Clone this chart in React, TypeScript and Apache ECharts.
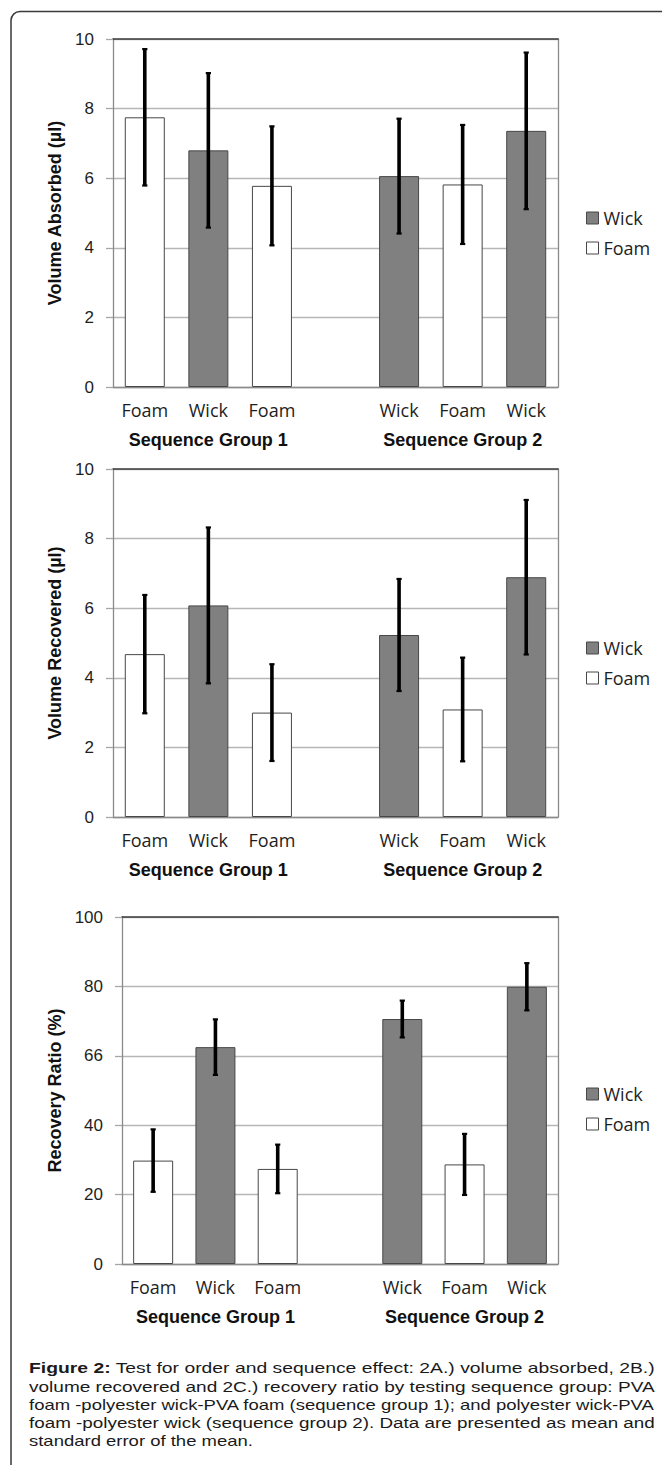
import React, { useEffect, useRef } from "react";
import * as echarts from "echarts";

// ---------- data ----------
const categories = ["Foam", "Wick", "Foam", "", "Wick", "Foam", "Wick"];
const materials = ["Foam", "Wick", "Foam", "", "Wick", "Foam", "Wick"];
const groupLabels = ["", "Sequence Group 1", "", "", "", "Sequence Group 2", ""];

const absorbedMean = [7.75, 6.8, 5.78, null, 6.06, 5.82, 7.36];
const absorbedSE = [1.96, 2.22, 1.71, null, 1.65, 1.71, 2.25];

const recoveredMean = [4.68, 6.08, 3.0, null, 5.23, 3.09, 6.89];
const recoveredSE = [1.7, 2.24, 1.39, null, 1.61, 1.49, 2.22];

const ratioMean = [29.8, 62.5, 27.4, null, 70.6, 28.7, 79.9];
const ratioSE = [9.0, 8.0, 7.0, null, 5.3, 8.8, 6.8];

const volumeTicks = ["0", "2", "4", "6", "8", "10"];
const ratioTicks = ["0", "20", "40", "66", "80", "100"];

const legendNames = ["Wick", "Foam"];

const captionBold = "Figure 2:";
const captionLines = [
  "Figure 2: Test for order and sequence effect: 2A.) volume absorbed, 2B.)",
  "volume recovered and 2C.) recovery ratio by testing sequence group: PVA",
  "foam -polyester wick-PVA foam (sequence group 1); and polyester wick-PVA",
  "foam -polyester wick (sequence group 2). Data are presented as mean and",
  "standard error of the mean.",
];

// ---------- styling / layout ----------
const SANS = '"Liberation Sans", Arial, sans-serif';
const CAT = '"Open Sans", sans-serif';
const WICK_FILL = "#808080";
const FOAM_FILL = "#ffffff";
const BAR_BORDER = "#474747";

const panels = [
  { title: "Volume Absorbed (µl)", mean: absorbedMean, se: absorbedSE, ticks: volumeTicks, max: 10, interval: 2 },
  { title: "Volume Recovered (µl)", mean: recoveredMean, se: recoveredSE, ticks: volumeTicks, max: 10, interval: 2 },
  { title: "Recovery Ratio (%)", mean: ratioMean, se: ratioSE, ticks: ratioTicks, max: 100, interval: 20 },
];
const layouts = [
  { left: 113, top: 39, width: 445, height: 348, legendTop: 203, nameGap: 45 },
  { left: 113, top: 469, width: 445, height: 348, legendTop: 633, nameGap: 45 },
  { left: 122, top: 917, width: 436, height: 347, legendTop: 1079, nameGap: 54 },
];

const captionX = 29;
const captionRight = 655;
const captionTop = 1368;
const captionStep = 18.35;
const captionSize = 15;

function measure(text: string, font: string): number {
  const c = document.createElement("canvas").getContext("2d");
  if (!c) return text.length * 7;
  c.font = font;
  return c.measureText(text).width;
}

function buildCaption() {
  const normalFont = `${captionSize}px "Liberation Sans"`;
  const boldFont = `bold ${captionSize}px "Liberation Sans"`;
  const target = captionRight - captionX;
  const widths = captionLines.map((line) => {
    if (line.startsWith(captionBold)) {
      return measure(captionBold, boldFont) + measure(line.slice(captionBold.length), normalFont);
    }
    return measure(line, normalFont);
  });
  const scales = widths.map((w) => target / w);
  const full = scales.slice(0, captionLines.length - 1);
  const lastScale = Math.min(...full);
  return captionLines.map((line, i) => {
    const last = i === captionLines.length - 1;
    const isFirst = line.startsWith(captionBold);
    const text = isFirst
      ? `{b|${captionBold}}{n|${line.slice(captionBold.length)}}`
      : line;
    return {
      type: "text",
      x: captionX,
      y: captionTop + i * captionStep,
      scaleX: last ? lastScale : scales[i],
      z: 10,
      style: {
        text,
        fill: "#1a1a1a",
        fontSize: captionSize,
        fontFamily: SANS,
        align: "left",
        verticalAlign: "middle",
        rich: {
          b: { fontWeight: "bold", fontSize: captionSize, fontFamily: SANS, fill: "#1a1a1a" },
          n: { fontSize: captionSize, fontFamily: SANS, fill: "#1a1a1a" },
        },
      },
    };
  });
}

function buildOption() {
  const grid: any[] = [];
  const xAxis: any[] = [];
  const yAxis: any[] = [];
  const series: any[] = [];
  const legend: any[] = [];

  panels.forEach((p, i) => {
    const l = layouts[i];
    grid.push({ left: l.left, top: l.top, width: l.width, height: l.height, show: false });

    // bottom category axis
    xAxis.push({
      type: "category",
      gridIndex: i,
      position: "bottom",
      data: categories,
      axisLine: { show: true, onZero: false, lineStyle: { color: "#8a8a8a", width: 1.3 } },
      axisTick: { show: false },
      axisLabel: { interval: 0, margin: 14, fontFamily: CAT, fontSize: 18, color: "#1e1e1e" },
      splitLine: { show: false },
    });
    // top frame line
    xAxis.push({
      type: "category",
      gridIndex: i,
      position: "top",
      data: categories,
      axisLine: { show: true, onZero: false, lineStyle: { color: "#3c3c3c", width: 1.5 } },
      axisTick: { show: false },
      axisLabel: { show: false },
      splitLine: { show: false },
    });
    // group labels
    xAxis.push({
      type: "category",
      gridIndex: i,
      position: "bottom",
      data: groupLabels,
      axisLine: { show: false, onZero: false },
      axisTick: { show: false },
      axisLabel: {
        interval: 0,
        margin: 44,
        fontFamily: SANS,
        fontWeight: "bold",
        fontSize: 18,
        color: "#111",
      },
      splitLine: { show: false },
    });

    yAxis.push({
      type: "value",
      gridIndex: i,
      position: "left",
      min: 0,
      max: p.max,
      interval: p.interval,
      name: p.title,
      nameLocation: "middle",
      nameGap: l.nameGap,
      nameTextStyle: { fontFamily: SANS, fontWeight: "bold", fontSize: 18, color: "#111" },
      axisLine: { show: true, onZero: false, lineStyle: { color: "#8a8a8a", width: 1.3 } },
      axisTick: { show: true, length: 7, lineStyle: { color: "#a6a6a6", width: 1.3 } },
      axisLabel: {
        margin: 19,
        fontFamily: SANS,
        fontSize: 17,
        color: "#1e1e1e",
        formatter: (v: number) => p.ticks[Math.round(v / p.interval)] ?? String(v),
      },
      splitLine: { show: true, lineStyle: { color: "#b6b6b6", width: 1.4 } },
    });
    // right frame line
    yAxis.push({
      type: "value",
      gridIndex: i,
      position: "right",
      min: 0,
      max: p.max,
      interval: p.interval,
      axisLine: { show: true, onZero: false, lineStyle: { color: "#8a8a8a", width: 1.3 } },
      axisTick: { show: false },
      axisLabel: { show: false },
      splitLine: { show: false },
    });

    const xIdx = i * 3;
    const yIdx = i * 2;

    series.push({
      type: "bar",
      name: "Wick",
      xAxisIndex: xIdx,
      yAxisIndex: yIdx,
      barWidth: 40,
      barGap: "-100%",
      itemStyle: { color: WICK_FILL, borderColor: BAR_BORDER, borderWidth: 1 },
      data: p.mean.map((v, k) => (materials[k] === "Wick" && v != null ? v : "-")),
      z: 2,
    });
    series.push({
      type: "bar",
      name: "Foam",
      xAxisIndex: xIdx,
      yAxisIndex: yIdx,
      barWidth: 40,
      barGap: "-100%",
      itemStyle: { color: FOAM_FILL, borderColor: BAR_BORDER, borderWidth: 1 },
      data: p.mean.map((v, k) => (materials[k] === "Foam" && v != null ? v : "-")),
      z: 2,
    });
    series.push({
      type: "custom",
      name: "SE",
      xAxisIndex: xIdx,
      yAxisIndex: yIdx,
      clip: false,
      z: 5,
      encode: { x: 0, y: [1, 2] },
      data: p.mean
        .map((v, k) => (v == null ? null : [k, v - (p.se[k] as number), v + (p.se[k] as number)]))
        .filter((d) => d !== null),
      renderItem: (_params: any, api: any) => {
        const x = api.value(0);
        const lo = api.coord([x, api.value(1)]);
        const hi = api.coord([x, api.value(2)]);
        const cap = 2.6;
        const st = { stroke: "#000", lineWidth: 2.2 };
        return {
          type: "group",
          children: [
            { type: "line", shape: { x1: lo[0], y1: lo[1], x2: hi[0], y2: hi[1] }, style: { stroke: "#000", lineWidth: 3.6 } },
            { type: "line", shape: { x1: lo[0] - cap, y1: lo[1], x2: lo[0] + cap, y2: lo[1] }, style: st },
            { type: "line", shape: { x1: hi[0] - cap, y1: hi[1], x2: hi[0] + cap, y2: hi[1] }, style: st },
          ],
        };
      },
    });

    legend.push({
      orient: "vertical",
      left: 581,
      top: l.legendTop,
      itemWidth: 12,
      itemHeight: 12,
      itemGap: 10,
      icon: "rect",
      selectedMode: false,
      textStyle: { fontFamily: CAT, fontSize: 18, color: "#1e1e1e", lineHeight: 20 },
      data: [
        { name: legendNames[0], itemStyle: { color: WICK_FILL, borderColor: BAR_BORDER, borderWidth: 1 } },
        { name: legendNames[1], itemStyle: { color: FOAM_FILL, borderColor: BAR_BORDER, borderWidth: 1 } },
      ],
    });
  });

  const graphic: any[] = [
    {
      type: "rect",
      z: -10,
      shape: { x: 11, y: 11.5, width: 720, height: 1540, r: 9 },
      style: { fill: "none", stroke: "#3a3a3a", lineWidth: 1.5 },
    },
    ...buildCaption(),
  ];

  return {
    animation: false,
    backgroundColor: "#ffffff",
    grid,
    xAxis,
    yAxis,
    series,
    legend,
    graphic,
  };
}

export default function App() {
  const ref = useRef<HTMLDivElement>(null);
  useEffect(() => {
    if (!ref.current) return;
    const chart = echarts.init(ref.current, null, { renderer: "svg" });
    chart.setOption(buildOption() as any);
    return () => chart.dispose();
  }, []);
  return (
    <div
      ref={ref}
      style={{ position: "fixed", left: 0, top: 0, width: 662, height: 1465, background: "#fff" }}
    />
  );
}
